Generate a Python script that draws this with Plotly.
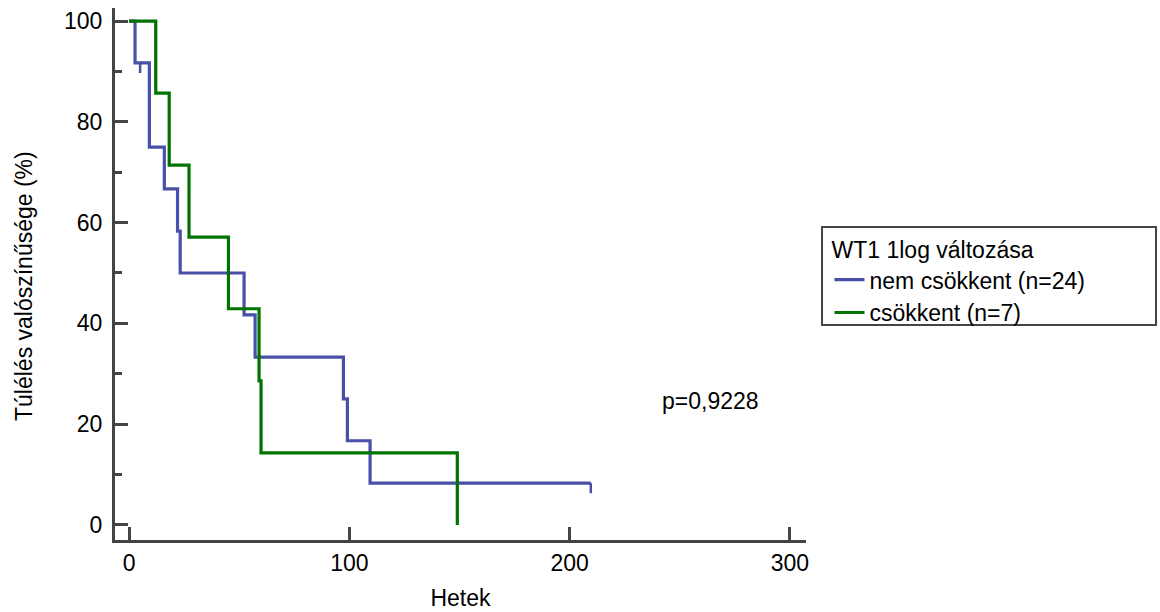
import plotly.graph_objects as go

# Kaplan-Meier step data (weeks, survival %)
blue_name = "nem csökkent (n=24)"
blue_t = [0, 2.7, 9.2, 16, 22, 23.2, 52.2, 57.2, 97.3, 99.1, 109.4, 209.6]
blue_s = [100, 91.7, 75.0, 66.7, 58.3, 50.0, 41.7, 33.3, 25.0, 16.7, 8.3, 8.3]
blue_cens_t = [5, 209.6]
blue_cens_s = [91.7, 8.3]

green_name = "csökkent (n=7)"
green_t = [0, 12.1, 18.2, 27.2, 45.1, 59.0, 59.9, 149.0]
green_s = [100, 85.7, 71.4, 57.1, 42.9, 28.6, 14.3, 0.0]

x_ticks = [0, 100, 200, 300]
y_ticks = [0, 20, 40, 60, 80, 100]
y_minor = [10, 30, 50, 70, 90]
legend_title = "WT1 1log változása"
p_text = "p=0,9228"
x_title = "Hetek"
y_title = "Túlélés valószínűsége (%)"

BLUE = "#4A4FA8"
GREEN = "#007300"
AX = "#444444"
FONT = "Liberation Sans, Arial, sans-serif"
FS = 23
CENS = 2.0  # censor tick length in % units


def cens_xy(ts, ss):
    xs, ys = [], []
    for t, s in zip(ts, ss):
        xs += [t, t, None]
        ys += [s, s - CENS, None]
    return xs, ys


fig = go.Figure()
fig.add_trace(go.Scatter(x=blue_t, y=blue_s, mode="lines", line_shape="hv",
                         line=dict(color=BLUE, width=3.2), name=blue_name))
cx, cy = cens_xy(blue_cens_t, blue_cens_s)
fig.add_trace(go.Scatter(x=cx, y=cy, mode="lines", line=dict(color=BLUE, width=2.5),
                         showlegend=False, hoverinfo="skip"))
fig.add_trace(go.Scatter(x=green_t, y=green_s, mode="lines", line_shape="hv",
                         line=dict(color=GREEN, width=3.2), name=green_name))

fig.add_annotation(x=264, y=24.6, xref="x", yref="y", text=p_text, showarrow=False,
                   font=dict(family=FONT, size=FS, color="#000"))
# y-axis title
fig.add_annotation(x=-0.1317, y=0.4774, xref="paper", yref="paper", text=y_title,
                   textangle=-90, showarrow=False, xanchor="center", yanchor="middle",
                   font=dict(family=FONT, size=FS, color="#000"))
# legend frame
fig.add_shape(type="rect", xref="paper", yref="paper", x0=1.0232, x1=1.5065,
              y0=0.4041, y1=0.5883, line=dict(color=AX, width=2), fillcolor="rgba(0,0,0,0)")

fig.update_layout(
    width=1160, height=612,
    margin=dict(l=115, r=354, t=8, b=72, autoexpand=False),
    paper_bgcolor="white", plot_bgcolor="white",
    font=dict(family=FONT, size=FS, color="#000"),
    legend=dict(
        title=dict(text=legend_title, font=dict(family=FONT, size=FS)),
        x=1.034, xanchor="left", y=0.586, yanchor="top",
        borderwidth=0, bgcolor="rgba(0,0,0,0)",
        font=dict(family=FONT, size=FS), tracegroupgap=0,
    ),
    showlegend=True,
)
fig.update_xaxes(
    range=[-6.4, 307.3], tickvals=x_ticks, ticks="inside", ticklen=13, tickwidth=2.5,
    tickcolor=AX, showline=True, linecolor=AX, linewidth=3, showgrid=False, zeroline=False,
    title=dict(text=x_title, standoff=16, font=dict(family=FONT, size=FS)),
    ticklabelstandoff=0, automargin=False,
)
fig.update_yaxes(
    range=[-3, 102.6], tickvals=y_ticks, ticks="inside", ticklen=13, tickwidth=2.5,
    tickcolor=AX, showline=True, linecolor=AX, linewidth=3, showgrid=False, zeroline=False,
    minor=dict(tickvals=y_minor, ticks="inside", ticklen=7, tickwidth=2.5,
               tickcolor=AX, showgrid=False),
    ticklabelstandoff=5, automargin=False,
)

fig.write_html("out.html")
